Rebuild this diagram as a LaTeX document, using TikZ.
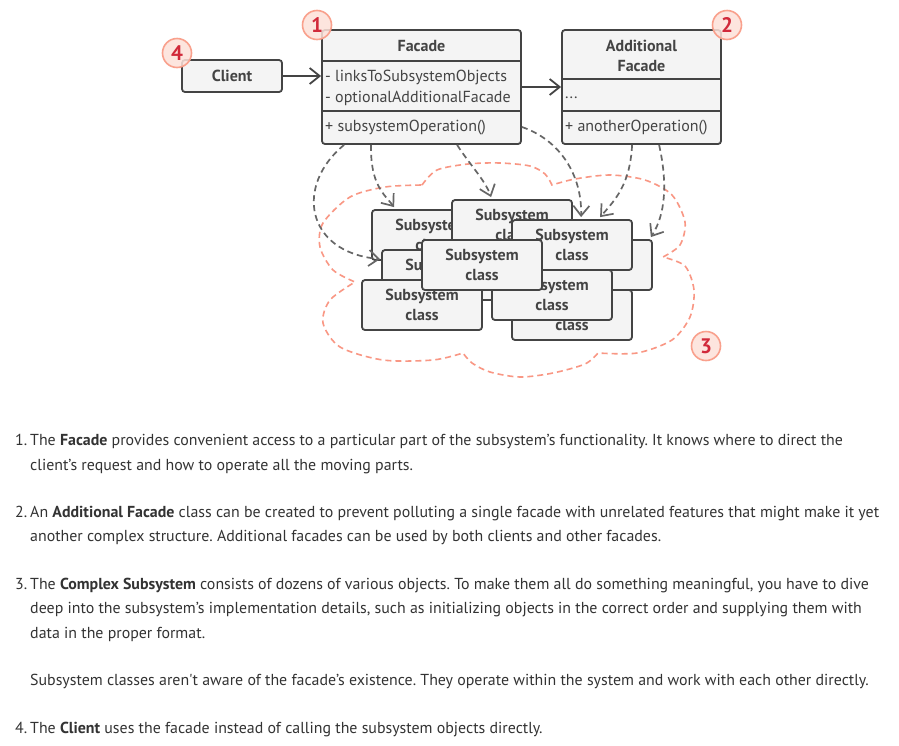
\documentclass[tikz,border=0pt]{standalone}
\usepackage{fontspec}
\setmainfont{PT Sans}
\usetikzlibrary{arrows.meta,calc}
\definecolor{ink}{HTML}{444444}
\definecolor{boxfill}{HTML}{F4F4F4}
\definecolor{arrowgray}{HTML}{666666}
\definecolor{cloudc}{HTML}{F99784}
\definecolor{badgefill}{HTML}{FDE1D9}
\definecolor{badgeline}{HTML}{F9A08C}
\definecolor{badgenum}{HTML}{D1293A}
\definecolor{txt}{HTML}{333333}
\frenchspacing
\begin{document}
\begin{tikzpicture}[x=1pt,y=-1pt,
  box/.style={draw=ink, line width=1.8pt, fill=boxfill, rounded corners=3pt, inner sep=0pt},
  subbox/.style={box, minimum width=120pt, minimum height=50pt, align=center,
    font=\fontsize{16}{20}\selectfont\bfseries, text=ink},
  lbl/.style={inner sep=0pt, text=ink, font=\fontsize{16}{20}\selectfont},
  blbl/.style={inner sep=0pt, text=ink, align=center, font=\fontsize{16}{20}\selectfont\bfseries},
  dep/.style={draw=arrowgray, line width=1.7pt, dash pattern=on 6pt off 4pt,
    -{Straight Barb[length=10pt,width=16pt]}},
  assoc/.style={draw=ink, line width=1.8pt, -{Straight Barb[length=10pt,width=16pt]}},
  cloud/.style={draw=cloudc, line width=1.6pt, dash pattern=on 6pt off 4pt},
  badge/.style={circle, draw=badgeline, line width=1.6pt, fill=badgefill, fill opacity=0.85,
    text opacity=1, minimum size=29pt, inner sep=0pt, text=badgenum,
    font=\fontsize{21}{21}\selectfont\bfseries},
  para/.style={anchor=base west, inner sep=0pt, text=txt, font=\fontsize{15.9}{18}\selectfont}
]
\useasboundingbox (0,0) rectangle (899,745);
\fill[white] (0,0) rectangle (899,745);

% cloud (complex subsystem)
\draw[cloud]
  plot[smooth] coordinates {(422,185) (437,170) (468,164) (500,163) (530,166) (545,174) (552,185)}
  -- plot[smooth] coordinates {(552,185) (575,179) (610,175) (645,180) (672,195) (685,222) (680,245) (663,257)}
  -- plot[smooth] coordinates {(663,257) (685,266) (694,290) (690,317) (672,340) (637,353) (598,353)}
  -- plot[smooth] coordinates {(598,353) (585,364) (553,373) (520,377) (490,372) (472,363) (463,353)}
  -- plot[smooth] coordinates {(463,353) (433,360) (383,360) (340,347) (323,323) (330,300) (355,282)}
  -- plot[smooth] coordinates {(355,282) (333,270) (320,247) (323,223) (350,197) (385,187) (422,185)};

% client
\node[box, minimum width=100pt, minimum height=32pt, font=\fontsize{16}{20}\selectfont\bfseries, text=ink] (client) at (232,76) {Client};

% facade
\node[box, minimum width=199pt, minimum height=114pt] (facade) at (421.5,87) {};
\draw[ink, line width=1.8pt] ($(facade.north west)+(0,32)$) -- ($(facade.north east)+(0,32)$);
\draw[ink, line width=1.8pt] ($(facade.north west)+(0,82)$) -- ($(facade.north east)+(0,82)$);
\node[blbl] (facadeT) at (421.5,46) {Facade};
\node[lbl, anchor=west] (fa1) at (325,77) {- linksToSubsystemObjects};
\node[lbl, anchor=west] (fa2) at (325,98) {- optionalAdditionalFacade};
\node[lbl, anchor=west] (fo1) at (325,128) {+ subsystemOperation()};

% additional facade
\node[box, minimum width=159pt, minimum height=114pt] (af) at (641.5,87) {};
\draw[ink, line width=1.8pt] ($(af.north west)+(0,50)$) -- ($(af.north east)+(0,50)$);
\draw[ink, line width=1.8pt] ($(af.north west)+(0,82)$) -- ($(af.north east)+(0,82)$);
\node[blbl] (afT) at (641.5,56) {Additional\\Facade};
\node[lbl, anchor=west] (afa) at (565,98) {...};
\node[lbl, anchor=west] (afo) at (565,128) {+ anotherOperation()};

% associations
\draw[assoc] (client.east) -- (facade.west |- client.east);
\draw[assoc] (facade.east) -- (af.west);

% subsystem classes (back to front)
\node[subbox] (sA) at (432,235) {Subsystem\\class};
\node[subbox] (sB) at (512,225) {Subsystem\\class};
\node[subbox] (sE) at (442,275) {Subsystem\\class};
\node[subbox] (sD) at (592,265) {Subsystem\\class};
\node[subbox] (sC) at (572,245) {Subsystem\\class};
\node[subbox] (sI) at (572,315) {Subsystem\\class};
\node[subbox] (sG) at (422,305) {Subsystem\\class};
\node[subbox] (sH) at (552,295) {Subsystem\\class};
\node[subbox] (sF) at (482,265) {Subsystem\\class};

% dependencies
\draw[dep] ($(facade.south west)+(23,0)$) .. controls (295,185) and (305,252) .. ($(sE.north west)+(-1,10)$);
\draw[dep] ($(facade.south west)+(50,0)$) .. controls (370,185) and (385,195) .. ($(sA.north west)+(23,-2)$);
\draw[dep] ($(facade.south west)+(136,0)$) .. controls (470,165) and (485,180) .. ($(sB.north west)+(40,-2)$);
\draw[dep] ($(facade.east)+(0,40)$) .. controls (560,140) and (582,175) .. ($(sC.north west)+(70,-2)$);
\draw[dep] ($(af.south west)+(71,0)$) .. controls (630,185) and (615,200) .. ($(sC.north west)+(89,-2)$);
\draw[dep] ($(af.south west)+(98,0)$) .. controls (668,185) and (665,215) .. ($(sD.north east)+(-2,-2)$);

% badges
\node[badge] (b1) at (317,25) {1};
\node[badge] (b2) at (727,25) {2};
\node[badge] (b3) at (706,346) {3};
\node[badge] (b4) at (177,53) {4};

% explanatory text
\node[para] (n1) at (15,445) {1.};
\node[para] (t1a) at (30,445) {The \textbf{Facade} provides convenient access to a particular part of the subsystem’s functionality. It knows where to direct the};
\node[para] (t1b) at (30,470) {client’s request and how to operate all the moving parts.};
\node[para] (n2) at (15,517) {2.};
\node[para] (t2a) at (30,517) {An \textbf{Additional Facade} class can be created to prevent polluting a single facade with unrelated features that might make it yet};
\node[para] (t2b) at (30,541) {another complex structure. Additional facades can be used by both clients and other facades.};
\node[para] (n3) at (15,589) {3.};
\node[para] (t3a) at (30,589) {The \textbf{Complex Subsystem} consists of dozens of various objects. To make them all do something meaningful, you have to dive};
\node[para] (t3b) at (30,613) {deep into the subsystem’s implementation details, such as initializing objects in the correct order and supplying them with};
\node[para] (t3c) at (30,638) {data in the proper format.};
\node[para] (t3d) at (30,685) {Subsystem classes aren\textquotesingle t aware of the facade’s existence. They operate within the system and work with each other directly.};
\node[para] (n4) at (15,733) {4.};
\node[para] (t4a) at (30,733) {The \textbf{Client} uses the facade instead of calling the subsystem objects directly.};
\end{tikzpicture}
\end{document}
